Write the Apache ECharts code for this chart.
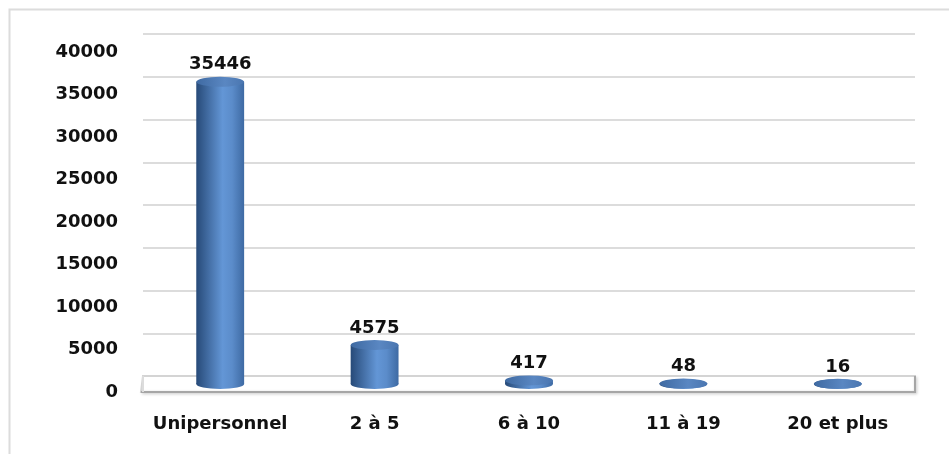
<!DOCTYPE html>
<html>
<head>
<meta charset="utf-8">
<script src="https://cdn.jsdelivr.net/npm/echarts@6/dist/echarts.min.js"></script>
<style>
  html, body { margin: 0; padding: 0; background: #fff; }
  #chart { width: 949px; height: 454px; }
</style>
</head>
<body>
<div id="chart"></div>
<script>
const categories = ['Unipersonnel', '2 à 5', '6 à 10', '11 à 19', '20 et plus']
const values = [35446, 4575, 417, 48, 16]
const yTicks = [0, 5000, 10000, 15000, 20000, 25000, 30000, 35000, 40000]

const DEPTH = 16
const font = { fontFamily: 'DejaVu Sans', fontWeight: 'bold', fontSize: 18, color: '#111' }

const chart = echarts.init(document.getElementById('chart'))

// back wall gridlines (grid 0), front labels (grid 1), bars at mid depth (grid 2)
const valueAxis = (gridIndex, extra) => Object.assign({
  type: 'value', gridIndex, min: 0, max: 40000, interval: 5000,
  axisLine: { show: false }, axisTick: { show: false },
  axisLabel: { show: false }, splitLine: { show: false }
}, extra)
const catAxis = (gridIndex, extra) => Object.assign({
  type: 'category', gridIndex, data: categories,
  axisLine: { show: false }, axisTick: { show: false }, axisLabel: { show: false }
}, extra)

const option = {
  animation: false,
  graphic: [{
    type: 'rect', left: 7, top: 7, silent: true,
    shape: { width: 980, height: 480 },
    style: { fill: 'none', stroke: '#dcdcdc', lineWidth: 2 }
  }],
  grid: [
    { left: 143, right: 34, top: 34, height: 342 },
    { left: 143, right: 34, top: 52, height: 340 },
    { left: 143, right: 34, top: 43, height: 341 }
  ],
  xAxis: [
    catAxis(0),
    catAxis(1, { axisLabel: Object.assign({ show: true, margin: 23, interval: 0 }, font) }),
    catAxis(2)
  ],
  yAxis: [
    valueAxis(0, { splitLine: { show: true, lineStyle: { color: '#dcdcdc', width: 2 } } }),
    valueAxis(1, { axisLabel: Object.assign({ show: true, margin: 25, formatter: v => String(v) }, font) }),
    valueAxis(2)
  ],
  series: [
    {
      // left wall edges + floor
      type: 'custom', xAxisIndex: 0, yAxisIndex: 0, silent: true, z: 1,
      data: yTicks,
      renderItem(params, api) {
        const cs = params.coordSys
        const y = api.coord([0, api.value(0)])[1]
        const children = [{
          type: 'line',
          shape: { x1: cs.x, y1: y, x2: cs.x, y2: y + DEPTH },
          style: { stroke: '#dcdcdc', lineWidth: 2 }
        }]
        if (api.value(0) === 0) {
          children.push({
            type: 'polygon',
            shape: { points: [[cs.x, y], [cs.x + cs.width, y], [cs.x + cs.width, y + DEPTH], [cs.x - 2, y + DEPTH]] },
            style: { fill: '#fff', stroke: '#d4d4d4', lineWidth: 2 }
          }, {
            type: 'polyline',
            shape: { points: [[cs.x - 2, y + DEPTH], [cs.x + cs.width, y + DEPTH], [cs.x + cs.width, y]] },
            style: { fill: 'none', stroke: '#a6a6a6', lineWidth: 2, shadowColor: 'rgba(0,0,0,0.25)', shadowBlur: 3, shadowOffsetY: 1, shadowOffsetX: 1 }
          })
        }
        return { type: 'group', children }
      }
    },
    {
      // cylinders
      type: 'custom', xAxisIndex: 2, yAxisIndex: 2, z: 5,
      data: values.map((v, i) => [i, v]),
      renderItem(params, api) {
        const top = api.coord([api.value(0), api.value(1)])
        const base = api.coord([api.value(0), 0])
        const w = api.size([1, 0])[0] * 0.31
        const rx = w / 2
        const ry = 5
        const body = new echarts.graphic.LinearGradient(0, 0, 1, 0, [
          { offset: 0, color: '#274a78' },
          { offset: 0.55, color: '#6396d6' },
          { offset: 0.75, color: '#5b8cca' },
          { offset: 1, color: '#3e6aa3' }
        ])
        const cap = new echarts.graphic.LinearGradient(0, 0, 1, 0, [
          { offset: 0, color: '#3f6aa2' },
          { offset: 0.6, color: '#5a87c2' },
          { offset: 1, color: '#4a76b0' }
        ])
        return {
          type: 'group',
          children: [
            { type: 'circle', x: base[0], y: base[1], scaleY: ry / rx, shape: { cx: 0, cy: 0, r: rx }, style: { fill: body } },
            { type: 'rect', shape: { x: base[0] - rx, y: top[1], width: w, height: base[1] - top[1] }, style: { fill: body } },
            { type: 'circle', x: top[0], y: top[1], scaleY: ry / rx, shape: { cx: 0, cy: 0, r: rx }, style: { fill: cap } },
            {
              type: 'text', x: top[0], y: top[1] - ry - 12,
              style: { text: String(api.value(1)), align: 'center', verticalAlign: 'middle', fill: '#111', font: 'bold 18px "DejaVu Sans"' }
            }
          ]
        }
      }
    }
  ]
}

chart.setOption(option)
</script>
</body>
</html>
